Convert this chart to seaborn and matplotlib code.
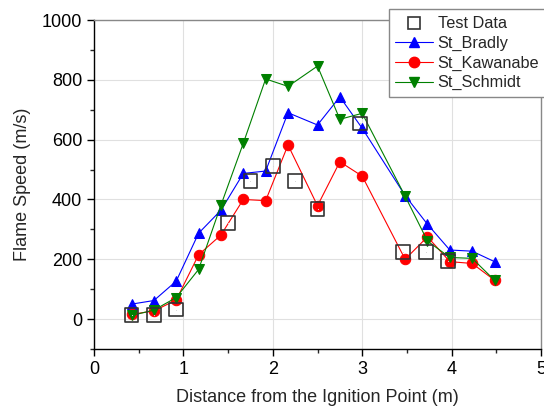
import matplotlib
matplotlib.use("Agg")
import matplotlib.pyplot as plt
import seaborn as sns
import pandas as pd
from matplotlib.lines import Line2D
from matplotlib.ticker import MultipleLocator

# ---- data ----
test_x = [0.42, 0.67, 0.92, 1.50, 1.75, 2.00, 2.25, 2.50, 2.98, 3.46, 3.71, 3.96]
test_y = [13, 13, 32, 320, 461, 512, 461, 369, 654, 225, 223, 194]

sim_x = [0.42, 0.67, 0.92, 1.17, 1.42, 1.67, 1.92, 2.17, 2.50, 2.75, 3.00, 3.48, 3.73, 3.98, 4.23, 4.48]
bradly = [50, 62, 127, 287, 364, 487, 495, 690, 649, 743, 638, 413, 317, 231, 227, 192]
kawanabe = [16, 27, 64, 215, 281, 400, 396, 582, 379, 526, 478, 200, 275, 192, 186, 130]
schmidt = [12, 30, 72, 166, 381, 588, 803, 778, 846, 668, 688, 411, 261, 206, 203, 130]

series_names = ["St_Bradly", "St_Kawanabe", "St_Schmidt"]
series_vals = [bradly, kawanabe, schmidt]
series_colors = ["#0000ff", "#ff0000", "#008000"]
series_markers = ["^", "o", "v"]

xlabel = "Distance from the Ignition Point (m)"
ylabel = "Flame Speed (m/s)"

sns.set_style("white")
plt.rcParams["font.family"] = ["Liberation Sans", "DejaVu Sans"]

fig = plt.figure(figsize=(5.44, 4.11), dpi=100)
ax = fig.add_axes([0.1728, 0.1509, 0.8217, 0.8004])

ax.grid(True, color="#e0e0e0", linewidth=0.8, zorder=0)
ax.set_axisbelow(True)

test_df = pd.DataFrame({"x": test_x, "y": test_y})
for name, vals, col, mk in zip(series_names, series_vals, series_colors, series_markers):
    df = pd.DataFrame({"x": sim_x, "y": vals})
    sns.lineplot(data=df, x="x", y="y", ax=ax, color=col, linewidth=0.8,
                 marker=mk, markersize=7.5, markeredgecolor=col,
                 markerfacecolor=col, label=name, legend=False, zorder=3)

sns.scatterplot(data=test_df, x="x", y="y", ax=ax, marker="s", s=100,
                facecolor="none", edgecolor="#333333", linewidth=1.2,
                legend=False, zorder=4)
sns.scatterplot(data=test_df, x="x", y="y", ax=ax, marker=".", s=2,
                color="#333333", linewidth=0, legend=False, zorder=5)

ax.set_xlim(0, 5)
ax.set_ylim(-100, 1000)
ax.xaxis.set_major_locator(MultipleLocator(1))
ax.xaxis.set_minor_locator(MultipleLocator(0.5))
ax.yaxis.set_major_locator(MultipleLocator(200))
ax.yaxis.set_minor_locator(MultipleLocator(100))
ax.set_yticks(range(0, 1001, 200))
ax.tick_params(axis="both", which="major", direction="out", length=5, width=1,
               labelsize=13, colors="black", bottom=True, left=True)
ax.tick_params(axis="both", which="minor", direction="out", length=3, width=1,
               bottom=True, left=True)
ax.set_xlabel(xlabel, fontsize=13, labelpad=8)
ax.set_ylabel(ylabel, fontsize=13, labelpad=8)

for s in ["left", "bottom"]:
    ax.spines[s].set_color("black")
    ax.spines[s].set_linewidth(1.0)
for s in ["top", "right"]:
    ax.spines[s].set_visible(True)
    ax.spines[s].set_color("#888888")
    ax.spines[s].set_linewidth(1.0)

handles = [Line2D([], [], linestyle="none", marker="s", markersize=9,
                  markerfacecolor="none", markeredgecolor="#333333", markeredgewidth=1.2)]
labels = ["Test Data"]
for name, col, mk in zip(series_names, series_colors, series_markers):
    handles.append(Line2D([], [], color=col, linewidth=0.8, marker=mk, markersize=7.5,
                          markerfacecolor=col, markeredgecolor=col))
    labels.append(name)
leg = fig.legend(handles, labels, loc="upper right", bbox_to_anchor=(1.004, 0.977),
                 fontsize=11.7, frameon=True, fancybox=False, edgecolor="#888888",
                 framealpha=1, borderpad=0.42, labelspacing=0.28, handlelength=2.3,
                 handletextpad=0.3, borderaxespad=0)
leg.get_frame().set_linewidth(1.0)

fig.savefig("out.png", dpi=100)
